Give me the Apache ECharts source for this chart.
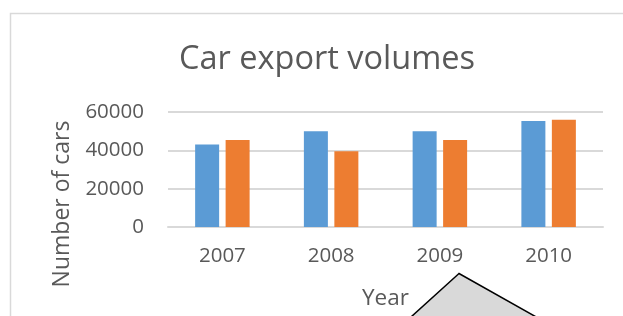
<!DOCTYPE html>
<html><head><meta charset="utf-8">
<script src="https://cdn.jsdelivr.net/npm/echarts@6/dist/echarts.min.js"></script>
<style>html,body{margin:0;padding:0;background:#fff}#c{width:623px;height:316px}</style>
</head><body><div id="c"></div>
<script>
const years = ['2007','2008','2009','2010'];
const seriesA = [43000, 50000, 50000, 55300];
const seriesB = [45400, 39500, 45400, 55900];
const yTicks = [0, 20000, 40000, 60000];
const FONT = 'Open Sans';
const TXT = '#595959';
const chart = echarts.init(document.getElementById('c'), null, {renderer:'canvas'});
chart.setOption({
  animation:false,
  backgroundColor:'#fff',
  title:{text:'Car export volumes', left:322, top:38, textAlign:'center',
    textStyle:{fontFamily:FONT, fontSize:32.5, fontWeight:'normal', color:TXT}},
  grid:{left:168, right:20, top:112, bottom:89},
  xAxis:{type:'category', data:years,
    axisLine:{lineStyle:{color:'#d9d9d9', width:2}}, axisTick:{show:false},
    axisLabel:{fontFamily:FONT, fontSize:20.5, color:TXT, margin:19},
    name:'Year', nameLocation:'middle', nameGap:60,
    nameTextStyle:{fontFamily:FONT, fontSize:22.5, color:TXT}},
  yAxis:{type:'value', min:yTicks[0], max:yTicks[yTicks.length-1], interval:yTicks[1]-yTicks[0],
    axisLine:{show:false}, axisTick:{show:false},
    splitLine:{lineStyle:{color:'#d9d9d9', width:2}},
    axisLabel:{fontFamily:FONT, fontSize:20.5, color:TXT, margin:24, formatter:v => String(v)}},
  series:[
    {type:'bar', data:seriesA, barWidth:24, barGap:'27%', itemStyle:{color:'#5b9bd5'}},
    {type:'bar', data:seriesB, barWidth:24, itemStyle:{color:'#ed7d31'}}
  ],
  graphic:[
    {type:'rect', shape:{x:10.5, y:13.5, width:700, height:400}, style:{fill:'none', stroke:'#d9d9d9', lineWidth:1.5}, silent:true, z:-1},
    {type:'text', x:62, y:204, rotation:Math.PI/2, style:{text:'Number of cars', fontFamily:FONT, fontSize:23, fill:TXT, align:'center', verticalAlign:'middle'}},
    {type:'polygon', shape:{points:[[459,273.5],[390,336],[570,336]]}, style:{fill:'#d9d9d9', stroke:'#000', lineWidth:1.5}, z:100}
  ]
});
</script></body></html>
